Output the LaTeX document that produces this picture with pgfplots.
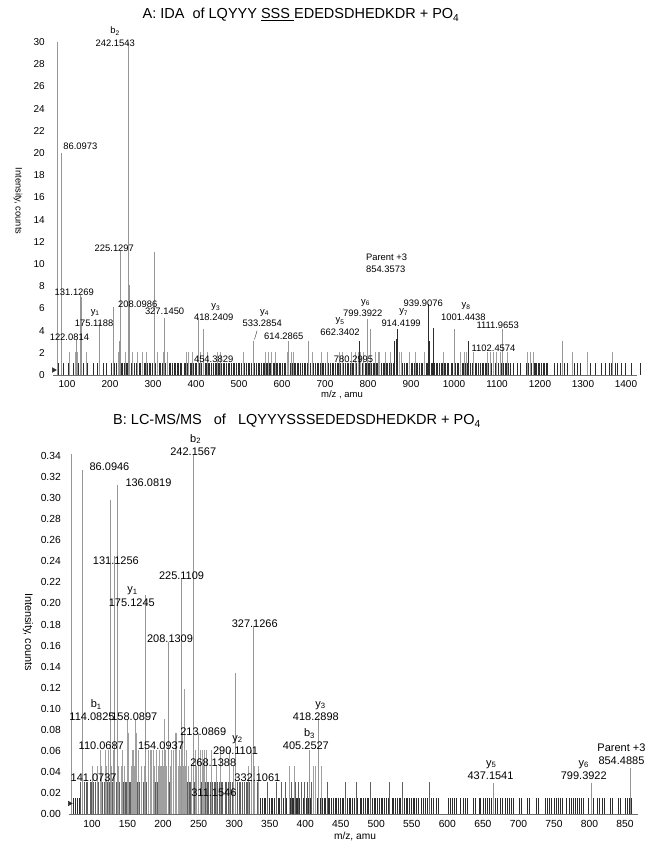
\documentclass[border=0pt]{standalone}
\usepackage{pgfplots}
\pgfplotsset{compat=1.18}
\usepackage{fontspec}
\setmainfont{Liberation Sans}

\definecolor{pk}{RGB}{150,150,150}
\definecolor{nd}{RGB}{45,45,45}
\definecolor{nm}{RGB}{95,95,95}
\definecolor{nl}{RGB}{160,160,160}
\definecolor{ax}{RGB}{110,110,110}

\newcommand\la{\fontsize{9.4}{11}\selectfont}
\newcommand\lb{\fontsize{11}{13}\selectfont}
\tikzset{la/.style={font=\la, inner sep=0pt}, lb/.style={font=\lb, inner sep=0pt}}

\pgfplotsset{spec/.style={
  scale only axis, anchor=south west,
  axis x line=bottom, axis y line=left,
  x axis line style={-, draw=ax, line width=0.8pt},
  y axis line style={draw=none},
  major tick length=0pt, clip=false, ymin=0,
  /pgf/number format/assume math mode=true,
  /pgf/number format/1000 sep={},
  xticklabel style={inner sep=0pt, anchor=north, yshift=-5.5pt},
  yticklabel style={inner sep=0pt, anchor=east, xshift=-8pt},
  ticklabel style={font=\fontsize{10}{12}\selectfont},
}}

\begin{document}
\begin{tikzpicture}
\path[use as bounding box] (0,0) rectangle (662pt,852pt);

% ---------------- A ----------------
\begin{axis}[spec, at={(53pt,477pt)}, width=584pt, height=333pt,
  xmin=67.4, xmax=1425.6, ymax=30,
  xtick={100,200,...,1400}, ytick={0,2,...,30}]
% noise, ~1 count
\addplot[ycomb, draw=nd, line width=0.8pt] coordinates {
(81,1.1)(91,1.1)(104,1.1)(114,1.1)(127,1.1)(137,1.1)(148,1.1)(162,1.1)(170,1.1)(185,1.1)(191,1.1)
(203,1.1)(207,1.1)(210,1.1)(214,1.1)(219,1.1)(222,1.1)(226,1.1)(229,1.1)(233,1.1)(238,1.1)(241,1.1)(245,1.1)(249,1.1)(252,1.1)(256,1.1)(261,1.1)(264,1.1)(268,1.1)(271,1.1)(275,1.1)
(280,1.1)(283,1.1)(287,1.1)(291,1.1)(294,1.1)(298,1.1)(303,1.1)(306,1.1)(310,1.1)(314,1.1)(317,1.1)(321,1.1)(326,1.1)(329,1.1)(333,1.1)(337,1.1)(340,1.1)(344,1.1)(349,1.1)(352,1.1)
(356,1.1)(360,1.1)(363,1.1)(367,1.1)(372,1.1)(375,1.1)(379,1.1)(383,1.1)(386,1.1)(390,1.1)(395,1.1)(398,1.1)(402,1.1)(406,1.1)(409,1.1)(413,1.1)(418,1.1)(421,1.1)(425,1.1)(429,1.1)
(432,1.1)(436,1.1)(441,1.1)(444,1.1)(448,1.1)(452,1.1)(455,1.1)(459,1.1)(464,1.1)(467,1.1)(471,1.1)(475,1.1)(478,1.1)(482,1.1)(487,1.1)(490,1.1)(494,1.1)(498,1.1)(501,1.1)(505,1.1)
(510,1.1)(513,1.1)(517,1.1)(521,1.1)(524,1.1)(528,1.1)(533,1.1)(536,1.1)(540,1.1)(544,1.1)(547,1.1)(551,1.1)(556,1.1)(559,1.1)(563,1.1)(567,1.1)(570,1.1)(574,1.1)(579,1.1)(582,1.1)
(586,1.1)(590,1.1)(593,1.1)(597,1.1)(602,1.1)(605,1.1)(609,1.1)(613,1.1)(616,1.1)(620,1.1)(625,1.1)(628,1.1)(632,1.1)(636,1.1)(639,1.1)(643,1.1)(648,1.1)(651,1.1)(655,1.1)(659,1.1)
(662,1.1)(666,1.1)(671,1.1)(674,1.1)(678,1.1)(682,1.1)(685,1.1)(689,1.1)(694,1.1)(697,1.1)(701,1.1)(705,1.1)(708,1.1)(712,1.1)(717,1.1)(720,1.1)(724,1.1)(728,1.1)(731,1.1)(735,1.1)
(740,1.1)(743,1.1)(747,1.1)(751,1.1)(754,1.1)(758,1.1)(763,1.1)(766,1.1)(770,1.1)(774,1.1)(777,1.1)(781,1.1)(786,1.1)(789,1.1)(793,1.1)(797,1.1)(800,1.1)(804,1.1)(809,1.1)(812,1.1)
(816,1.1)(820,1.1)(823,1.1)(827,1.1)(832,1.1)(835,1.1)(839,1.1)(843,1.1)(846,1.1)(850,1.1)(855,1.1)(858,1.1)(862,1.1)(866,1.1)(869,1.1)(873,1.1)(878,1.1)(881,1.1)(885,1.1)(889,1.1)
(892,1.1)(896,1.1)(901,1.1)(904,1.1)(908,1.1)(912,1.1)(915,1.1)(919,1.1)(924,1.1)(927,1.1)(931,1.1)(935,1.1)(938,1.1)(942,1.1)(947,1.1)(950,1.1)(954,1.1)(958,1.1)(961,1.1)(965,1.1)
(970,1.1)(973,1.1)(977,1.1)(981,1.1)(984,1.1)(988,1.1)(993,1.1)(996,1.1)(1000,1.1)(1004,1.1)(1007,1.1)(1011,1.1)(1016,1.1)(1019,1.1)(1023,1.1)(1027,1.1)(1030,1.1)(1034,1.1)(1039,1.1)
(1042,1.1)(1046,1.1)(1050,1.1)(1053,1.1)(1057,1.1)(1062,1.1)(1065,1.1)(1069,1.1)(1073,1.1)(1076,1.1)(1080,1.1)(1085,1.1)(1088,1.1)(1092,1.1)(1096,1.1)(1099,1.1)(1103,1.1)(1108,1.1)
(1111,1.1)(1115,1.1)(1119,1.1)(1122,1.1)(1126,1.1)
(1131,1.1)(1139,1.1)(1147,1.1)(1155,1.1)(1169,1.1)(1174,1.1)(1180,1.1)(1186,1.1)(1189,1.1)(1192,1.1)(1196,1.1)(1199,1.1)(1203,1.1)(1207,1.1)(1210,1.1)(1214,1.1)(1217,1.1)
(1233,1.1)(1240,1.1)(1248,1.1)(1256,1.1)(1264,1.1)(1280,1.1)(1287,1.1)(1295,1.1)(1311,1.1)(1318,1.1)(1330,1.1)(1342,1.1)(1353,1.1)(1361,1.1)(1367,1.1)(1375,1.1)(1381,1.1)(1389,1.1)
(1398,1.1)(1412,1.1)(1433,1.1)};
% noise, ~2 counts
\addplot[ycomb, draw=nl, line width=0.6pt] coordinates {
(106,2.1)(119,2.1)(125,2.1)(145,2.1)(220,2.1)(236,2.1)(251,2.1)(264,2.1)(274,2.1)(284,2.1)(309,2.1)(325,2.1)(333,2.1)(377,2.1)(383,2.1)(391,2.1)(409,2.1)(427,2.1)(449,2.1)(457,2.1)
(511,2.1)(561,2.1)(569,2.1)(574,2.1)(584,2.1)(612,2.1)(621,2.1)(627,2.1)(670,2.1)(691,2.1)(706,2.1)(734,2.1)(740,2.1)(761,2.1)(771,2.1)(777,2.1)(783,2.1)(790,2.1)(816,2.1)(823,2.1)
(827,2.1)(841,2.1)(851,2.1)(872,2.1)(878,2.1)(897,2.1)(909,2.1)(932,2.1)(975,2.1)(1014,2.1)(1028,2.1)(1046,2.1)(1077,2.1)(1084,2.1)(1092,2.1)(1099,2.1)(1108,2.1)(1123,2.1)(1170,2.1)
(1178,2.1)(1184,2.1)(1275,2.1)(1310,2.1)(1024,2.1)(1367,2.1)};
% peaks
\addplot[ycomb, draw=pk, line width=0.7pt] coordinates {
(77,30)(86.1,20)(122.1,3.2)(131.1,7.2)(133,7.0)(175.1,4.7)(208.1,6.1)(222,3.1)(225.1,11.2)(242.15,30)(244,8.1)(302,11.1)(327.1,5.1)(406,5.0)(418.2,4.1)
(533.3,3.1)(614.3,3.1)(662.3,3.1)(799.4,5.0)(806,4.1)(1001.4,4.1)(1111.97,4.1)(1252,3.1)};
\addplot[ycomb, draw=nd, line width=0.7pt] coordinates {
(781,3.1)(861,3.1)(866,3.2)(869,4.1)(939.9,6.4)(943,3.1)(951,4.2)(1034,3.1)};
\addplot[only marks, mark=triangle*, mark size=2.6pt, mark options={rotate=-90, fill=nd, draw=nd}] coordinates {(69,0.45)};
% labels
\node[la] at (axis cs:212,30.96) {b\textsubscript{2}};
\node[la] at (axis cs:212,29.9) {242.1543};
\node[la, anchor=west] at (axis cs:91,20.6) {86.0973};
\node[la] at (axis cs:210,11.4) {225.1297};
\node[la] at (axis cs:117,7.46) {131.1269};
\node[la] at (axis cs:264.6,6.4) {208.0986};
\node[la] at (axis cs:327,5.73) {327.1450};
\node[la] at (axis cs:165.6,5.6) {y\textsubscript{1}};
\node[la] at (axis cs:163,4.69) {175.1188};
\node[la] at (axis cs:105.5,3.43) {122.0814};
\node[la] at (axis cs:446,6.1) {y\textsubscript{3}};
\node[la] at (axis cs:441,5.22) {418.2409};
\node[la] at (axis cs:559.5,5.6) {y\textsubscript{4}};
\node[la] at (axis cs:554,4.69) {533.2854};
\draw[nd] (axis cs:542,4.0) -- (axis cs:536,3.2);
\node[la] at (axis cs:604,3.5) {614.2865};
\node[la] at (axis cs:735,4.84) {y\textsubscript{5}};
\node[la] at (axis cs:735,3.85) {662.3402};
\node[la, anchor=west] at (axis cs:795,10.6) {Parent +3};
\node[la, anchor=west] at (axis cs:795,9.5) {854.3573};
\node[la] at (axis cs:794.5,6.5) {y\textsubscript{6}};
\node[la] at (axis cs:788,5.58) {799.3922};
\node[la] at (axis cs:928.6,6.42) {939.9076};
\node[la] at (axis cs:883,5.64) {y\textsubscript{7}};
\node[la] at (axis cs:877,4.69) {914.4199};
\node[la] at (axis cs:1028,6.18) {y\textsubscript{8}};
\node[la] at (axis cs:1022,5.22) {1001.4438};
\node[la] at (axis cs:1101.6,4.45) {1111.9653};
\node[la] at (axis cs:1092,2.45) {1102.4574};
\node[la] at (axis cs:766.5,1.41) {780.2995};
\node[la] at (axis cs:441,1.41) {454.3829};
\end{axis}

% ---------------- B ----------------
\begin{axis}[spec, at={(69pt,38pt)}, width=569pt, height=358pt,
  xmin=67.6, xmax=868.3, ymax=0.34,
  xtick={100,150,...,850},
  ytick={0,0.02,0.04,0.06,0.08,0.1,0.12,0.14,0.16,0.18,0.2,0.22,0.24,0.26,0.28,0.3,0.32,0.34},
  scaled y ticks=false,
  yticklabel style={/pgf/number format/fixed, /pgf/number format/fixed zerofill, /pgf/number format/precision=2},
  xticklabel style={yshift=-1pt},
  ticklabel style={font=\fontsize{10.3}{12}\selectfont}]
\addplot[ycomb, draw=nd, line width=0.7pt] coordinates {
(74,.0153)(77,.0153)(79,.0153)(82,.0153)(84,.0153)(87,.0153)(89,.0153)(92,.0153)(94,.0153)(97,.0153)(99,.0153)(102,.0153)(104,.0153)(107,.0153)(109,.0153)(112,.0153)(114,.0153)
(117,.0153)(119,.0153)(122,.0153)(124,.0153)(127,.0153)(129,.0153)(132,.0153)(134,.0153)(137,.0153)(139,.0153)(142,.0153)(144,.0153)(147,.0153)(149,.0153)(152,.0153)(154,.0153)
(157,.0153)(159,.0153)(162,.0153)(164,.0153)(167,.0153)(169,.0153)(172,.0153)(174,.0153)(177,.0153)(179,.0153)(182,.0153)(184,.0153)(187,.0153)(189,.0153)(192,.0153)(194,.0153)
(197,.0153)(199,.0153)(202,.0153)(204,.0153)(207,.0153)(209,.0153)(212,.0153)(214,.0153)(217,.0153)(219,.0153)(222,.0153)(224,.0153)(227,.0153)(229,.0153)(232,.0153)(234,.0153)
(237,.0153)(239,.0153)(242,.0153)(244,.0153)(247,.0153)(249,.0153)(252,.0153)(254,.0153)(257,.0153)(259,.0153)(262,.0153)(264,.0153)(267,.0153)(269,.0153)(272,.0153)(274,.0153)
(277,.0153)(279,.0153)(282,.0153)(284,.0153)(287,.0153)(289,.0153)(292,.0153)(294,.0153)(297,.0153)(299,.0153)(302,.0153)(304,.0153)(307,.0153)(309,.0153)(312,.0153)(314,.0153)
(317,.0153)(319,.0153)(322,.0153)(324,.0153)(327,.0153)(329,.0153)(332,.0153)(334,.0153)(337,.0153)(339,.0153)(342,.0153)(344,.0153)(347,.0153)(349,.0153)(352,.0153)(354,.0153)
(357,.0153)(359,.0153)(362,.0153)(364,.0153)(367,.0153)(369,.0153)(372,.0153)(374,.0153)(377,.0153)(379,.0153)(382,.0153)(384,.0153)(387,.0153)(389,.0153)(392,.0153)(394,.0153)
(397,.0153)(399,.0153)(402,.0153)(404,.0153)(407,.0153)(409,.0153)(412,.0153)(414,.0153)(417,.0153)(419,.0153)(422,.0153)(424,.0153)(427,.0153)(429,.0153)(432,.0153)(434,.0153)
(437,.0153)(439,.0153)(442,.0153)(444,.0153)(447,.0153)(449,.0153)(452,.0153)(454,.0153)(457,.0153)(459,.0153)(462,.0153)(464,.0153)(467,.0153)(469,.0153)(472,.0153)(474,.0153)
(477,.0153)(479,.0153)(482,.0153)(484,.0153)(487,.0153)(489,.0153)(492,.0153)(494,.0153)(497,.0153)(499,.0153)(502,.0153)(504,.0153)(507,.0153)(509,.0153)(512,.0153)(514,.0153)
(517,.0153)(519,.0153)(522,.0153)(524,.0153)(527,.0153)(529,.0153)(532,.0153)(534,.0153)(537,.0153)(539,.0153)(542,.0153)(544,.0153)(547,.0153)(549,.0153)(552,.0153)(554,.0153)
(557,.0153)(559,.0153)(563,.0153)(566,.0153)(569,.0153)(572,.0153)(575,.0153)(578,.0153)(581,.0153)(584,.0153)(587,.0153)(601,.0153)(604,.0153)(607,.0153)(610,.0153)(613,.0153)
(619,.0153)(622,.0153)(625,.0153)(628,.0153)(636,.0153)(639,.0153)(645,.0153)(647,.0153)(650,.0153)(653,.0153)(656,.0153)(659,.0153)(662,.0153)(665,.0153)(668,.0153)(671,.0153)
(674,.0153)(678,.0153)(681,.0153)(684,.0153)(687,.0153)(690,.0153)(693,.0153)(701,.0153)(704,.0153)(713,.0153)(716,.0153)(725,.0153)(728,.0153)(738,.0153)(741,.0153)(744,.0153)
(747,.0153)(750,.0153)(753,.0153)(756,.0153)(759,.0153)(762,.0153)(768,.0153)(771,.0153)(774,.0153)(777,.0153)(780,.0153)(783,.0153)(786,.0153)(789,.0153)(792,.0153)(799,.0153)
(802,.0153)(805,.0153)(811,.0153)(814,.0153)(818,.0153)(821,.0153)(829,.0153)(832,.0153)(840,.0153)(843,.0153)(850,.0153)(853,.0153)(856,.0153)(859,.0153)};
\addplot[ycomb, draw=nm, line width=0.7pt] coordinates {
(84,.0306)(87,.0306)(89,.0306)(92,.0306)(94,.0306)(97,.0306)(99,.0306)(102,.0306)(104,.0306)(107,.0306)(109,.0306)(112,.0306)(114,.0306)(117,.0306)(119,.0306)(122,.0306)
(124,.0306)(127,.0306)(129,.0306)(132,.0306)(134,.0306)(137,.0306)(139,.0306)(142,.0306)(144,.0306)(147,.0306)(149,.0306)(152,.0306)(154,.0306)(157,.0306)(159,.0306)(162,.0306)
(164,.0306)(167,.0306)(169,.0306)(172,.0306)(174,.0306)(177,.0306)(179,.0306)(182,.0306)(184,.0306)(187,.0306)(189,.0306)(192,.0306)(194,.0306)(197,.0306)(199,.0306)(202,.0306)
(204,.0306)(207,.0306)(209,.0306)(212,.0306)(214,.0306)(217,.0306)(219,.0306)(222,.0306)(224,.0306)(227,.0306)(229,.0306)(232,.0306)(234,.0306)(237,.0306)(239,.0306)(242,.0306)
(244,.0306)(247,.0306)(249,.0306)(252,.0306)(254,.0306)(257,.0306)(259,.0306)(262,.0306)(264,.0306)(267,.0306)(269,.0306)(272,.0306)(274,.0306)(277,.0306)(279,.0306)(282,.0306)
(284,.0306)(287,.0306)(289,.0306)(292,.0306)(294,.0306)(297,.0306)(299,.0306)(302,.0306)(304,.0306)(307,.0306)(309,.0306)(312,.0306)(314,.0306)(317,.0306)(319,.0306)(322,.0306)
(324,.0306)(327,.0306)(329,.0306)(332,.0306)(334,.0306)(347,.0306)(360,.0306)(366,.0306)(372,.0306)(377,.0306)(381,.0306)(386,.0306)(390,.0306)(395,.0306)(399,.0306)(403,.0306)
(408,.0306)(412,.0306)(431,.0306)(457,.0306)(472,.0306)(491,.0306)(518,.0306)(537,.0306)(574,.0306)};
\addplot[ycomb, draw=nl, line width=0.6pt] coordinates {
(101,.046)(107,.046)(113,.046)(120,.046)(127,.046)(132,.046)(137,.046)(141,.046)(146,.046)(151,.046)(155,.046)(160,.046)(165,.046)(169,.046)(174,.046)(179,.046)(188,.046)
(193,.046)(196,.046)(198,.046)(200,.046)(203,.046)(205,.046)(207,.046)(210,.046)(212,.046)(214,.046)(217,.046)(219,.046)(221,.046)(224,.046)(226,.046)(228,.046)(231,.046)(233,.046)
(235,.046)(240,.046)(242,.046)(247,.046)(252,.046)(256,.046)(261,.046)(268,.046)(275,.046)(299,.046)(320,.046)(324,.046)(329,.046)(334,.046)(377,.046)(385,.046)(411,.046)(414.5,.046)(423,.046)};
\addplot[ycomb, draw=nl, line width=0.6pt] coordinates {
(111,.061)(118,.061)(123,.061)(130,.061)(135,.061)(143,.061)(150,.061)(156,.061)(158,.061)(162,.061)(165,.061)(179,.061)(182,.061)(184,.061)(186,.061)(190,.061)(195,.061)
(199,.061)(203,.061)(207,.061)(211,.061)(215,.061)(219,.061)(223,.061)(226,.061)(232,.061)(243,.061)(246,.061)(249,.061)(252,.061)(255,.061)(258,.061)(261,.061)(268,.061)
(281,.061)(293,.061)(324,.061)
(132,.0765)(151,.0765)(163,.0765)(217,.0765)(219,.0765)(227,.0765)(250,.0765)
(150,.089)(161,.09)(202,.09)(226,.09)(229.5,.119)};
\addplot[ycomb, draw=pk, line width=0.7pt] coordinates {
(71,.342)(86.1,.327)(126,.298)(131.1,.245)(136.1,.312)(175.1,.208)(208.1,.163)(225.1,.223)(242.16,.342)(302,.134)(327.13,.179)
(405.25,.061)(418.29,.091)(665,.029)(802.7,.029)(857.5,.044)};
\addplot[only marks, mark=triangle*, mark size=2.6pt, mark options={rotate=-90, fill=nd, draw=nd}] coordinates {(68.5,.01)};
\node[lb] at (axis cs:245.8,.356) {b\textsubscript{2}};
\node[lb] at (axis cs:242.5,.344) {242.1567};
\node[lb, anchor=west] at (axis cs:96.3,.330) {86.0946};
\node[lb] at (axis cs:179.4,.315) {136.0819};
\node[lb] at (axis cs:133.6,.241) {131.1256};
\node[lb] at (axis cs:226,.226) {225.1109};
\node[lb] at (axis cs:157,.212) {y\textsubscript{1}};
\node[lb] at (axis cs:156,.201) {175.1245};
\node[lb] at (axis cs:329,.181) {327.1266};
\node[lb] at (axis cs:209.8,.166) {208.1309};
\node[lb] at (axis cs:106,.104) {b\textsubscript{1}};
\node[lb] at (axis cs:100,.0926) {114.0825};
\node[lb] at (axis cs:159.5,.0926) {158.0897};
\node[lb] at (axis cs:256.5,.0785) {213.0869};
\node[lb] at (axis cs:304.7,.0707) {y\textsubscript{2}};
\node[lb] at (axis cs:302,.0597) {290.1101};
\node[lb] at (axis cs:406,.0763) {b\textsubscript{3}};
\node[lb] at (axis cs:401,.0644) {405.2527};
\node[lb] at (axis cs:421.5,.103) {y\textsubscript{3}};
\node[lb] at (axis cs:415,.0926) {418.2898};
\node[lb] at (axis cs:113,.0644) {110.0687};
\node[lb] at (axis cs:197,.0644) {154.0937};
\node[lb] at (axis cs:270.6,.0487) {268.1388};
\node[lb] at (axis cs:102.3,.0345) {141.0737};
\node[lb] at (axis cs:332.7,.0345) {332.1061};
\node[lb] at (axis cs:271.5,.0198) {311.1546};
\node[lb] at (axis cs:661.7,.047) {y\textsubscript{5}};
\node[lb] at (axis cs:660.8,.036) {437.1541};
\node[lb] at (axis cs:792,.047) {y\textsubscript{6}};
\node[lb] at (axis cs:792,.036) {799.3922};
\node[lb] at (axis cs:845,.0628) {Parent +3};
\node[lb] at (axis cs:845,.0509) {854.4885};
\end{axis}

% titles and axis names
\node[font=\fontsize{14.5}{17}\selectfont] at (301pt,837pt) {A: IDA\ \ of LQYYY \underline{SSS }EDEDSDHEDKDR + PO\textsubscript{4}};
\node[font=\fontsize{14.5}{17}\selectfont] at (297pt,431pt) {B: LC-MS/MS\ \ \ of\ \ \ LQYYYSSSEDEDSDHEDKDR + PO\textsubscript{4}};
\node[rotate=-90, font=\fontsize{9.3}{11}\selectfont] at (18pt,651pt) {Intensity, counts};
\node[rotate=-90, font=\fontsize{10.9}{13}\selectfont] at (28pt,220pt) {Intensity, counts};
\node[font=\fontsize{9.5}{11}\selectfont] at (342pt,457pt) {m/z , amu};
\node[font=\fontsize{10.2}{12}\selectfont] at (355pt,16pt) {m/z, amu};
\end{tikzpicture}
\end{document}
